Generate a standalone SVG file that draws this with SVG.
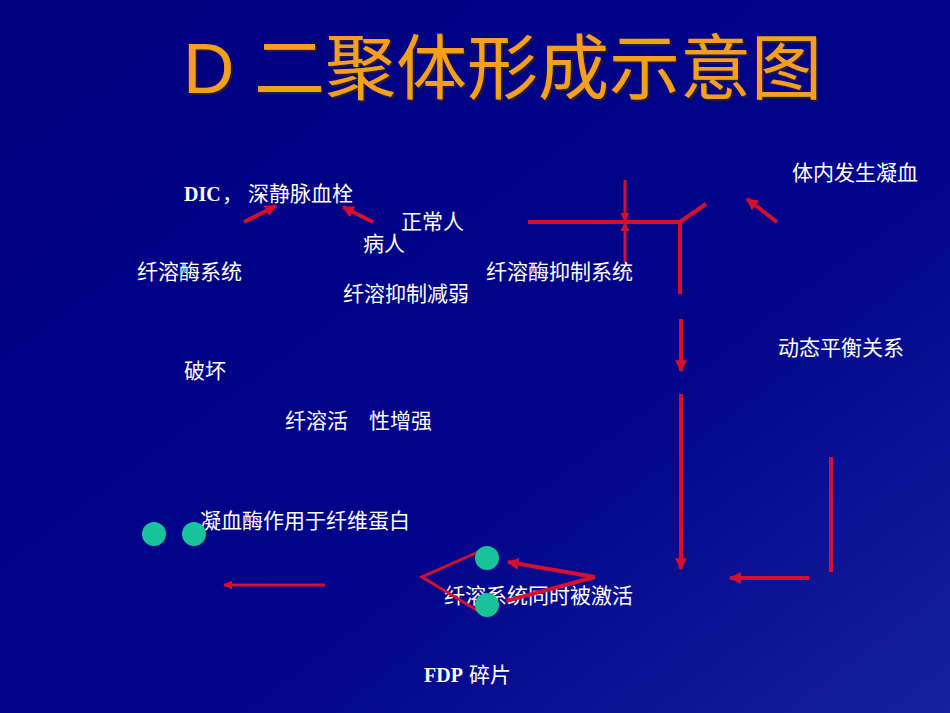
<svg xmlns="http://www.w3.org/2000/svg" width="950" height="713" viewBox="0 0 950 713">
<defs>
<linearGradient id="bg" x1="0" y1="0" x2="1" y2="1">
<stop offset="0" stop-color="#000080"/>
<stop offset="0.6" stop-color="#00048a"/>
<stop offset="1" stop-color="#16209c"/>
</linearGradient>
<filter id="sh" x="-5%" y="-20%" width="110%" height="140%">
<feDropShadow dx="2" dy="2" stdDeviation="0.6" flood-color="#2a1a30" flood-opacity="0.9"/>
</filter>
<marker id="ah" viewBox="0 0 10 10" refX="9" refY="5" markerWidth="3" markerHeight="3" orient="auto">
<path d="M0,0 L10,5 L0,10 z" fill="#d4102e"/>
</marker>
<style>
.t{font-family:"Liberation Sans","Noto Sans CJK SC",sans-serif;font-size:21px;fill:#ffffff}
.s{font-family:"Liberation Serif",serif;font-weight:bold;font-size:20px;fill:#ffffff}
.r{stroke:#d4102e;fill:none;stroke-linecap:butt}
.w4{stroke-width:4}
.w3{stroke-width:3}
.dot{fill:#19c39a}
</style>
</defs>
<rect width="950" height="713" fill="url(#bg)"/>
<g id="title">
<text x="183" y="93" font-family="Liberation Sans,Noto Sans CJK SC,sans-serif" font-size="71" fill="#f5a01c" filter="url(#sh)">D 二聚体形成示意图</text>
</g>
<g id="n-dic"><text class="s" x="184" y="201">DIC</text><text class="t" x="222" y="201">，</text><text class="t" x="248" y="201">深静脉血栓</text></g>
<g id="n-normal"><text class="t" x="401" y="229">正常人</text></g>
<g id="n-patient"><text class="t" x="363" y="251">病人</text></g>
<g id="n-fibsys"><text class="t" x="137" y="279">纤溶酶系统</text></g>
<g id="n-inhibweak"><text class="t" x="343" y="301">纤溶抑制减弱</text></g>
<g id="n-inhibsys"><text class="t" x="486" y="279">纤溶酶抑制系统</text></g>
<g id="n-coag"><text class="t" x="792" y="180">体内发生凝血</text></g>
<g id="n-balance"><text class="t" x="778" y="355">动态平衡关系</text></g>
<g id="n-break"><text class="t" x="184" y="378">破坏</text></g>
<g id="n-active"><text class="t" x="285" y="428">纤溶活　性增强</text></g>
<g id="n-thrombin"><text class="t" x="200" y="528">凝血酶作用于纤维蛋白</text></g>
<g id="n-activated"><text class="t" x="444" y="603">纤溶系统同时被激活</text></g>
<g id="n-fdp"><text class="s" x="424" y="682">FDP</text><text class="t" x="469" y="682">碎片</text></g>
<g id="connectors">
<line class="r w4" x1="244" y1="222" x2="276" y2="206" marker-end="url(#ah)"/>
<line class="r w4" x1="373" y1="222" x2="343" y2="207" marker-end="url(#ah)"/>
<line class="r w3" x1="625" y1="180" x2="625" y2="221" marker-end="url(#ah)"/>
<line class="r w3" x1="625" y1="262" x2="625" y2="223" marker-end="url(#ah)"/>
<polyline class="r w4" points="528,222 680,222 706,204"/>
<line class="r w4" x1="680" y1="222" x2="680" y2="294"/>
<line class="r w4" x1="777" y1="222" x2="747" y2="199" marker-end="url(#ah)"/>
<line class="r w4" x1="681" y1="319" x2="681" y2="371" marker-end="url(#ah)"/>
<line class="r w4" x1="681" y1="394" x2="681" y2="569" marker-end="url(#ah)"/>
<line class="r w4" x1="831" y1="457" x2="831" y2="572"/>
<line class="r w4" x1="809" y1="578" x2="730" y2="578" marker-end="url(#ah)"/>
<line class="r w3" x1="325" y1="585" x2="224" y2="585" marker-end="url(#ah)"/>
<polyline class="r w3" points="478,552 422,577 480,612"/>
<line class="r w4" x1="595" y1="577" x2="508" y2="562" marker-end="url(#ah)"/>
<line class="r w4" x1="595" y1="577" x2="506" y2="601"/>
</g>
<g id="dots">
<circle class="dot" cx="154" cy="534" r="12"/>
<circle class="dot" cx="194" cy="534" r="12"/>
<circle class="dot" cx="487" cy="558" r="12"/>
<circle class="dot" cx="487" cy="605" r="12"/>
</g>
</svg>
